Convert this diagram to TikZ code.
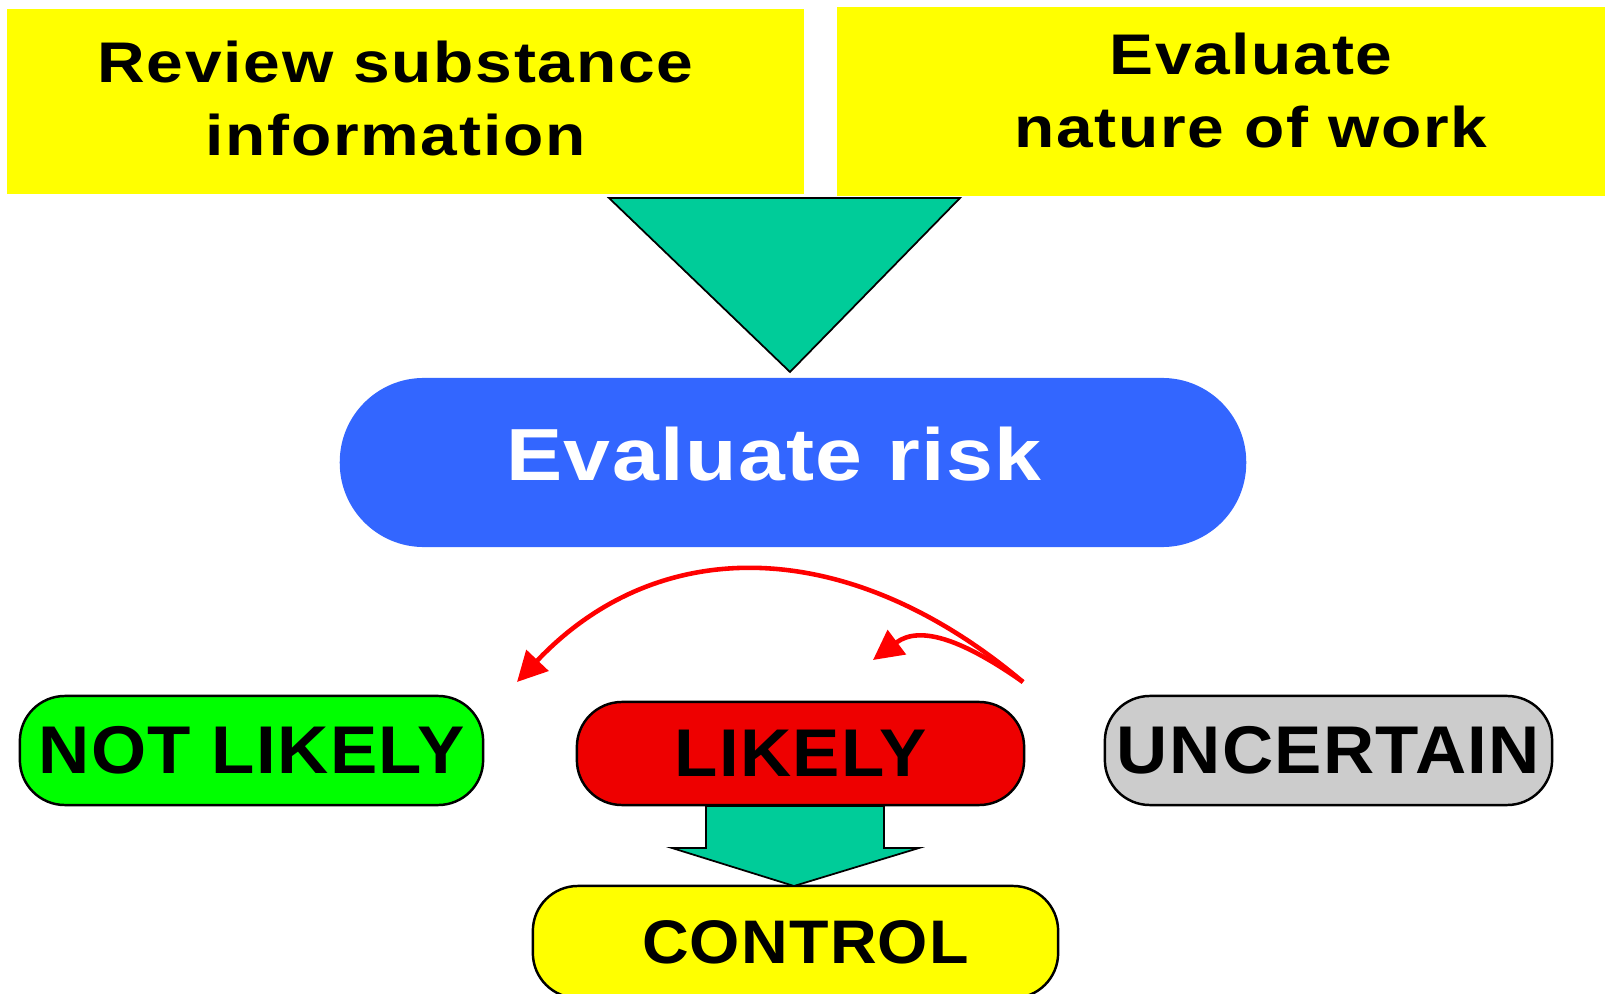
\documentclass[tikz,border=0pt]{standalone}
\usepackage{fontspec}
\setmainfont{Liberation Sans}
\usetikzlibrary{arrows.meta}

\definecolor{topyellow}{HTML}{FFFF00}
\definecolor{arrowteal}{HTML}{00CC99}
\definecolor{riskblue}{HTML}{3366FF}
\definecolor{okgreen}{HTML}{00FF00}
\definecolor{badred}{HTML}{EE0000}
\definecolor{unsuregray}{HTML}{CCCCCC}

\tikzset{
  topbox/.style={fill=topyellow, inner sep=0pt},
  toptext/.style={font=\fontsize{16.3}{20.5}\selectfont\bfseries\addfontfeature{FakeStretch=1.15,LetterSpace=3}, align=center},
  pill/.style={draw=black, line width=0.7pt, rounded corners=0.45cm, inner sep=0pt,
    font=\fontsize{19.2}{22}\selectfont\bfseries\addfontfeature{FakeStretch=1.05,LetterSpace=2}},
  blockarrow/.style={fill=arrowteal, draw=black, line width=0.5pt},
  choice/.style={draw=red, line width=1.3pt, -{Triangle[length=8.5pt,width=8.5pt]}}
}

\begin{document}
\begin{tikzpicture}[x=0.01cm, y=-0.01cm]
  \useasboundingbox (0,0) rectangle (1605,994);
  \clip (0,0) rectangle (1605,994);

  % the two starting steps
  \node[topbox, minimum width=7.97cm, minimum height=1.85cm,
    label={[toptext, xshift=-0.1cm, yshift=0.03cm]center:Review substance\\information}] (review) at (405.5,101.5) {};
  \node[topbox, minimum width=7.68cm, minimum height=1.89cm,
    label={[toptext, xshift=0.3cm, yshift=0.11cm]center:Evaluate\\nature of work}] (work) at (1221,101.5) {};

  % funnel into the risk step
  \draw[blockarrow] (609,198) -- (960,198) -- (790,372) -- cycle;

  \node[fill=riskblue, rounded corners=0.84cm, minimum width=9.06cm, minimum height=1.69cm, inner sep=0pt,
    label={[text=white, font=\fontsize{21}{24}\selectfont\bfseries\addfontfeature{FakeStretch=1.14,LetterSpace=2}, xshift=-0.19cm, yshift=0.08cm]center:Evaluate risk}] (risk) at (793,462.5) {};

  % outcomes
  \begin{scope}[every node/.style={pill}]
    \node[fill=okgreen, minimum width=4.63cm, minimum height=1.09cm] (notlikely) at (251.5,750.5) {NOT LIKELY};
    \node[fill=badred, minimum width=4.47cm, minimum height=1.03cm] (likely) at (800.5,753.5) {LIKELY};
    \node[fill=unsuregray, minimum width=4.47cm, minimum height=1.09cm] (uncertain) at (1328.5,750.5) {UNCERTAIN};
    \node[fill=topyellow, minimum width=5.25cm, minimum height=1.12cm,
      font=\fontsize{17.5}{20}\selectfont\bfseries\addfontfeature{FakeStretch=1.05,LetterSpace=2}] (control) at (795.5,942) {\hspace*{0.2cm}CONTROL};
  \end{scope}

  % likely leads to control
  \draw[blockarrow] (706,806) -- (884,806) -- (884,848) -- (919,848) -- (794,886)
    -- (672,848) -- (706,848) -- cycle;

  % red return arrows
  \coordinate (fork) at (1023,682);
  \coordinate (farend) at (517,682);
  \coordinate (nearend) at (873,660);
  \draw[choice] (fork) .. controls (850,536) and (660,531) .. (farend);
  \draw[choice] (fork) .. controls (966,642) and (921,624) .. (nearend);
\end{tikzpicture}
\end{document}
